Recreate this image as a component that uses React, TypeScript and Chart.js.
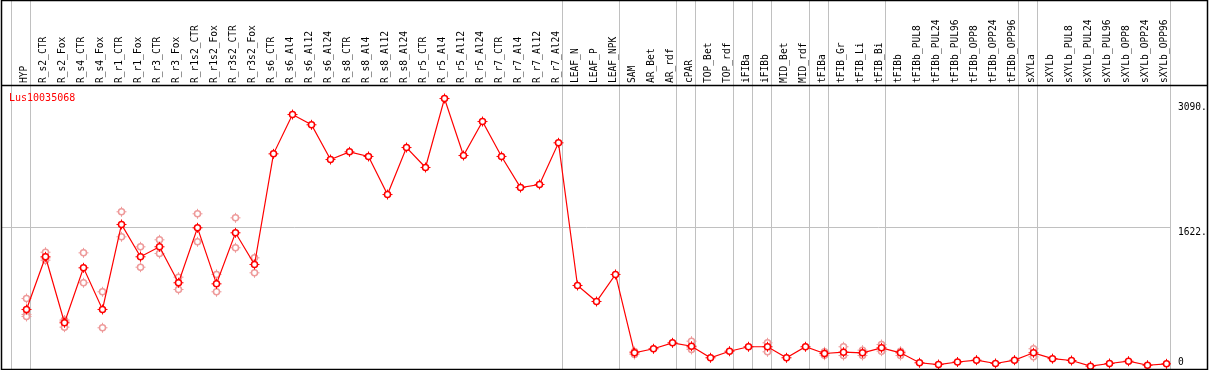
import React, { useEffect, useRef } from 'react';
import { Chart, registerables } from 'chart.js';

Chart.register(...registerables);

const geneId = 'Lus10035068';

const categories = [
  'HYP',
  'R_s2_CTR', 'R_s2_Fox', 'R_s4_CTR', 'R_s4_Fox', 'R_r1_CTR', 'R_r1_Fox', 'R_r3_CTR', 'R_r3_Fox',
  'R_r1s2_CTR', 'R_r1s2_Fox', 'R_r3s2_CTR', 'R_r3s2_Fox',
  'R_s6_CTR', 'R_s6_Al4', 'R_s6_Al12', 'R_s6_Al24',
  'R_s8_CTR', 'R_s8_Al4', 'R_s8_Al12', 'R_s8_Al24',
  'R_r5_CTR', 'R_r5_Al4', 'R_r5_Al12', 'R_r5_Al24',
  'R_r7_CTR', 'R_r7_Al4', 'R_r7_Al12', 'R_r7_Al24',
  'LEAF_N', 'LEAF_P', 'LEAF_NPK',
  'SAM', 'AR_Bet', 'AR_rdf', 'cPAR', 'TOP_Bet', 'TOP_rdf', 'iFIBa', 'iFIBb', 'MID_Bet', 'MID_rdf',
  'tFIBa', 'tFIB_Gr', 'tFIB_Li', 'tFIB_Bi',
  'tFIBb', 'tFIBb_PUL8', 'tFIBb_PUL24', 'tFIBb_PUL96', 'tFIBb_OPP8', 'tFIBb_OPP24', 'tFIBb_OPP96',
  'sXYLa', 'sXYLb', 'sXYLb_PUL8', 'sXYLb_PUL24', 'sXYLb_PUL96', 'sXYLb_OPP8', 'sXYLb_OPP24', 'sXYLb_OPP96',
];

const meanValues = [
  680, 1282, 528, 1156, 680, 1651, 1282, 1396, 985, 1613, 973, 1556, 1194,
  2458, 2907, 2790, 2393, 2481, 2428, 1993, 2530, 2302, 3090, 2439, 2827, 2428, 2073, 2108, 2584,
  954, 771, 1080,
  185, 231, 299, 260, 128, 203, 254, 254, 128, 254, 177, 192, 185, 242,
  185, 71, 51, 80, 101, 63, 101,
  185, 118, 97, 32, 63, 89, 43, 59,
];

const replicateValues: number[][] = [
  [805, 623, 600],
  [1334, 1269, 1243], [560, 546, 478], [1327, 985], [882, 471], [1796, 1510], [1396, 1163],
  [1476, 1319], [1049, 908], [1773, 1453], [1080, 882], [1727, 1385], [1270, 1099],
  [], [], [], [], [], [], [], [], [], [], [], [], [], [], [], [],
  [], [], [],
  [200, 166], [], [], [318, 242, 223], [], [], [], [299, 196], [], [],
  [196, 158], [254, 154], [215, 154], [280, 204],
  [203, 154], [], [], [], [], [], [],
  [231, 139], [], [], [], [], [], [], [],
];

// indices after which a group separator is drawn (-1 = before the first)
const groupEnds = [-1, 0, 28, 31, 34, 35, 37, 38, 39, 41, 42, 45, 52, 53, 60];

const yTickValues = [0, 1622, 3090];
const yTickLabels = ['0', '1622.', '3090.'];
const gridValue = 1622;
const yAxisMax = 3244.5;

const FONT = '"DejaVu Sans Mono", "Liberation Mono", monospace';
const RED = '#ff0000';
const PINK = '#ee9a9a';
const GRAY = '#c0c0c0';
const yLabelShift = [-7, 5.5, 8.5];

const decorPlugin = {
  id: 'decor',
  beforeDraw(chart: any) {
    const { ctx, chartArea, scales } = chart;
    const xs = scales.x;
    const ys = scales.y;
    ctx.save();
    ctx.fillStyle = '#ffffff';
    ctx.fillRect(0, 0, chart.width, chart.height);
    ctx.strokeStyle = GRAY;
    ctx.lineWidth = 1;
    groupEnds.forEach((i) => {
      const px = Math.floor(xs.getPixelForValue(i) + 4) + 0.5;
      ctx.beginPath();
      ctx.moveTo(px, 0);
      ctx.lineTo(px, chartArea.bottom);
      ctx.stroke();
    });
    const gy = Math.round(ys.getPixelForValue(gridValue)) + 0.5;
    ctx.beginPath();
    ctx.moveTo(chartArea.left, gy);
    ctx.lineTo(chartArea.right, gy);
    ctx.stroke();
    ctx.restore();
  },
  afterDraw(chart: any) {
    const { ctx, chartArea, scales } = chart;
    const ys = scales.y;
    ctx.save();
    ctx.strokeStyle = '#000000';
    ctx.lineWidth = 1.5;
    ctx.strokeRect(1.5, 0.5, 1206, chartArea.bottom);
    ctx.beginPath();
    ctx.moveTo(1, chartArea.top + 0.5);
    ctx.lineTo(1208, chartArea.top + 0.5);
    ctx.stroke();

    ctx.fillStyle = RED;
    ctx.font = `10px ${FONT}`;
    ctx.textBaseline = 'alphabetic';
    ctx.textAlign = 'left';
    ctx.fillText(geneId, 9, 101);

    ctx.fillStyle = '#000000';
    ctx.font = `9.6px ${FONT}`;
    ctx.textBaseline = 'middle';
    yTickValues.forEach((v, k) => {
      const py = ys.getPixelForValue(v) + yLabelShift[k];
      ctx.fillText(yTickLabels[k], chartArea.right + 7, py);
    });
    ctx.restore();
  },
};

export default function App() {
  const canvasRef = useRef<HTMLCanvasElement | null>(null);

  useEffect(() => {
    document.body.style.margin = '0';
    const canvas = canvasRef.current;
    if (!canvas) return;

    const meanPoints = meanValues.map((v, i) => ({ x: i, y: v }));
    const repPoints = replicateValues.flatMap((arr, i) => arr.map((v) => ({ x: i, y: v })));

    const chart = new Chart(canvas, {
      type: 'line',
      data: {
        datasets: [
          {
            data: repPoints,
            showLine: false,
            pointStyle: 'cross',
            pointRadius: 5,
            pointBorderWidth: 1,
            pointBorderColor: PINK,
            order: 4,
          },
          {
            data: repPoints,
            showLine: false,
            pointStyle: 'circle',
            pointRadius: 3,
            pointBorderWidth: 1.5,
            pointBorderColor: PINK,
            pointBackgroundColor: '#ffffff',
            order: 3,
          },
          {
            data: meanPoints,
            showLine: false,
            pointStyle: 'cross',
            pointRadius: 5,
            pointBorderWidth: 1,
            pointBorderColor: RED,
            order: 2,
          },
          {
            data: meanPoints,
            borderColor: RED,
            borderWidth: 1.2,
            tension: 0,
            pointStyle: 'circle',
            pointRadius: 3,
            pointBorderWidth: 1.5,
            pointBorderColor: RED,
            pointBackgroundColor: '#ffffff',
            order: 1,
          },
        ],
      } as any,
      options: {
        animation: false,
        responsive: false,
        devicePixelRatio: 1,
        events: [],
        layout: { autoPadding: false, padding: { left: 2, right: 38, top: 0, bottom: 1 } },
        plugins: {
          legend: { display: false },
          tooltip: { enabled: false },
          title: { display: false },
        },
        scales: {
          x: {
            type: 'linear',
            position: 'top',
            min: -24.5 / 19,
            max: 60 + 4.5 / 19,
            grid: { display: false, drawTicks: false },
            border: { display: false },
            afterBuildTicks: (axis: any) => {
              axis.ticks = categories.map((_, i) => ({ value: i }));
            },
            afterFit: (axis: any) => {
              axis.height = 85;
              axis.paddingLeft = 0;
              axis.paddingRight = 0;
            },
            ticks: {
              autoSkip: false,
              minRotation: 90,
              maxRotation: 90,
              padding: 2,
              labelOffset: 10,
              color: '#000000',
              font: { family: FONT, size: 9.6 },
              callback: (_v: any, index: number) => categories[index],
            },
          },
          y: {
            type: 'linear',
            display: false,
            min: 0,
            max: yAxisMax,
          },
        },
      } as any,
      plugins: [decorPlugin],
    });

    return () => chart.destroy();
  }, []);

  return (
    <div style={{ width: 1209, height: 370 }}>
      <canvas ref={canvasRef} width={1209} height={370} style={{ display: 'block' }} />
    </div>
  );
}
